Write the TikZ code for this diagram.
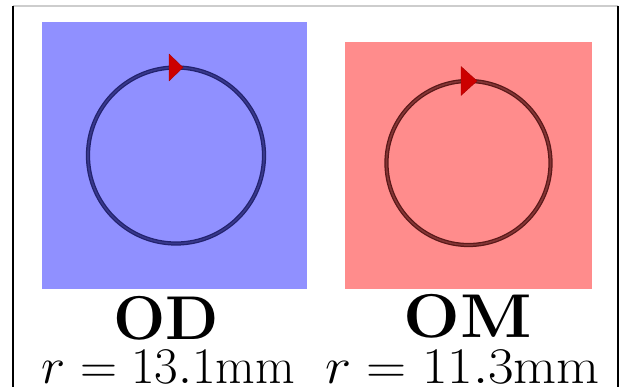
\documentclass[tikz,border=0pt]{standalone}
\usepackage{fix-cm}
\usepackage{tikz}
\usetikzlibrary{
  positioning,
  calc
}
\definecolor{odfill}{RGB}{144,144,255}
\definecolor{omfill}{RGB}{255,140,140}
\definecolor{odring}{RGB}{34,34,110}
\definecolor{omring}{RGB}{90,24,24}
\definecolor{tipred}{RGB}{204,0,0}
\definecolor{framegray}{RGB}{205,205,205}
\tikzset{
  panel/.style={
    rectangle, inner sep=0pt, outer sep=0pt, draw=none
  },
  panelOD/.style={
    panel, fill=odfill, minimum width=6.625cm, minimum height=6.675cm
  },
  panelOM/.style={
    panel, fill=omfill, minimum width=6.175cm, minimum height=6.175cm
  },
  ring/.style={
    circle, inner sep=0pt, outer sep=0pt, line width=0.9pt,
    double distance=1.2pt
  },
  ringOD/.style={
    ring, draw=odring, double=odring!80!odfill, minimum size=4.4cm
  },
  ringOM/.style={
    ring, draw=omring, double=omring!75!omfill, minimum size=4.1cm
  },
  tiptri/.style={
    fill=tipred, draw=tipred!85!black, line width=0.3pt, line join=round
  },
  namelabel/.style={
    inner sep=0pt, anchor=base, font=\fontsize{44}{48}\selectfont\bfseries
  },
  radlabel/.style={
    inner sep=0pt, anchor=base, font=\fontsize{36.5}{40}\selectfont
  },
  wide/.style={xscale=1.085},
  frameside/.style={draw=black, line width=2pt},
  frametop/.style={draw=framegray, line width=0.8pt}
}

\begin{document}
\begin{tikzpicture}[x=0.025cm, y=-0.025cm]
  \useasboundingbox (0,0) rectangle (621,387);

  % frame
  \draw[frametop] (13,6) -- (618,6);
  \draw[frameside] (13,6) -- (13,387);
  \draw[frameside, line width=1.5pt] (618,6) -- (618,387);

  % panels
  \node[panelOD] (pOD) at (174.5,155.5) {};
  \node[panelOM] (pOM) at (468.5,165.5) {};

  % rings
  \node[ringOD] (cOD) at (176,155.5) {};
  \node[ringOM] (cOM) at (468.5,163) {};

  \fill[tiptri] (cOD.north) ++(-7,-13.5) -- ++(14,13.5) -- ++(-14,13.5) -- cycle;
  \fill[tiptri] (cOM.north) ++(-7.5,-14.5) -- ++(16,14.5) -- ++(-16,14.5) -- cycle;

  % labels
  \node[namelabel] (tOD) at (166,340) {OD};
  \node[namelabel, wide] (tOM) at (467.5,338) {OM};
  \node[radlabel] (rOD) at (168.5,384) {$r = 13.1\mathrm{mm}$};
  \node[radlabel, wide] (rOM) at (462.5,383.5) {$r = 11.3\mathrm{mm}$};
\end{tikzpicture}
\end{document}
